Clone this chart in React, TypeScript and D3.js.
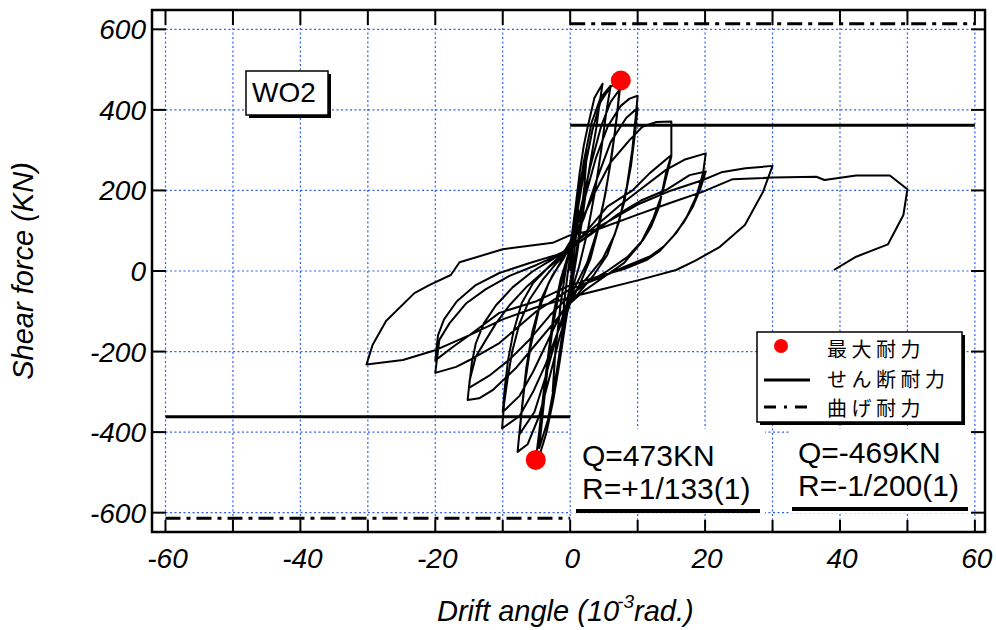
import * as d3 from 'd3';
import React from 'react';

const W = 996;
const H = 630;
const margin = {top: 10, right: 11, bottom: 98, left: 152};

// hysteresis record, [drift (1e-3 rad), shear (kN)], one array per load cycle
const cyc1 = [[0, 0], [0.3, 50], [0.7, 100], [1.2, 150], [0.9, 90], [0.4, 20], [0, -30], [-0.5, -90], [-1.2, -150]];
const cyc2 = [[-0.9, -80], [-0.4, -10], [0.1, 50], [0.9, 150], [1.7, 240], [2.5, 300], [2.1, 210], [1.3, 90], [0.5, 0], [-0.3, -60], [-1.2, -160], [-2.0, -250], [-2.6, -300]];
const cyc5a = [[-2.2, -200], [-1.4, -80], [-0.6, 10], [0.1, 70], [0.8, 160], [1.4, 243], [2.0, 310], [2.6, 358], [3.6, 430], [4.8, 465],
  [4.3, 410], [3.9, 358], [3.2, 290], [2.6, 230], [1.8, 130], [0.9, 30], [0.2, -40], [-0.7, -130], [-1.6, -230], [-2.5, -320], [-3.5, -400], [-4.4, -450], [-5.1, -469]];
const cyc5b = [[-4.6, -400], [-4.0, -310], [-3.2, -200], [-2.4, -100], [-1.4, -20], [-0.3, 40], [0.8, 140], [2.0, 270], [3.2, 370], [4.5, 430], [6.0, 460],
  [5.4, 400], [4.6, 300], [3.7, 200], [2.6, 100], [1.3, 10], [0.2, -50], [-1.0, -150], [-2.2, -270], [-3.3, -370], [-4.6, -440]];
const cyc75a = [[-4.1, -360], [-3.4, -250], [-2.6, -140], [-1.6, -50], [-0.4, 30], [0.8, 120], [2.0, 240], [3.3, 350], [4.5, 420], [6.0, 458], [7.5, 473],
  [7.1, 410], [6.5, 330], [5.6, 230], [4.4, 120], [3.0, 30], [1.5, -30], [0, -80], [-1.5, -160], [-3.0, -260], [-4.6, -360], [-6.3, -430], [-7.8, -449]];
const cyc75b = [[-7.4, -380], [-6.8, -290], [-5.9, -190], [-4.7, -100], [-3.2, -30], [-1.5, 20], [0, 60], [1.5, 150], [3.0, 260], [4.6, 360], [6.0, 420], [7.3, 450],
  [6.9, 380], [6.2, 290], [5.2, 190], [4.0, 100], [2.5, 20], [1.0, -30], [-0.5, -80], [-2.0, -160], [-3.6, -260], [-5.3, -350], [-7.5, -405]];
const cyc10a = [[-7.1, -330], [-6.5, -240], [-5.6, -150], [-4.3, -70], [-2.6, -10], [-1.0, 30], [0.5, 80], [2.0, 170], [3.8, 280], [5.6, 360], [7.5, 410], [8.8, 428], [10, 435],
  [9.7, 380], [9.2, 300], [8.4, 210], [7.2, 120], [5.5, 40], [3.5, -10], [1.5, -50], [0, -80], [-1.8, -150], [-3.6, -230], [-5.5, -300], [-7.5, -360], [-10.1, -391]];
const cyc10b = [[-9.8, -330], [-9.3, -270], [-8.6, -200], [-7.5, -130], [-6.0, -70], [-4.0, -20], [-2.0, 20], [0, 55], [2.0, 130], [4.0, 230], [6.0, 320], [8.3, 380], [10, 405],
  [9.6, 340], [9.0, 260], [8.0, 170], [6.6, 90], [4.8, 30], [2.6, -15], [0.5, -55], [-1.5, -110], [-3.5, -180], [-5.5, -250], [-7.5, -310], [-10, -350]];
const cyc15a = [[-9.7, -290], [-9.2, -220], [-8.4, -150], [-7.2, -80], [-5.5, -30], [-3.2, 10], [-1.0, 45], [1.0, 100], [3.5, 190], [6.0, 270], [8.8, 325], [10.7, 358], [12.8, 370], [15, 371],
  [15, 285], [14.5, 250], [13.6, 190], [12.3, 130], [10.5, 70], [8.0, 20], [5.0, -15], [2.0, -50], [0, -80], [-2.5, -130], [-5.0, -180], [-8.0, -240], [-11.5, -296], [-13.5, -316], [-15.2, -320]];
const cyc15b = [[-14.9, -271], [-14.0, -213], [-12.5, -171], [-11.0, -130], [-9.0, -85], [-6.5, -40], [-3.5, 5], [-0.5, 45], [2.5, 100], [5.5, 160], [9.3, 201], [11.8, 243], [15, 288],
  [14.2, 243], [13.2, 160], [12.0, 110], [10.8, 77], [8.5, 35], [5.5, 0], [2.5, -30], [0, -60], [-3, -110], [-6, -170], [-9, -220], [-12, -260], [-15, -290]];
const cyc20a = [[-14.6, -230], [-14.0, -180], [-12.8, -130], [-11.0, -85], [-8.5, -40], [-5.5, 0], [-2.5, 30], [0, 60], [4.3, 119], [7.5, 165], [10.3, 201], [14.2, 251], [16.9, 276], [20.1, 292],
  [19.7, 243], [18.7, 185], [17.3, 135], [15.7, 94], [13.8, 60], [11.8, 36], [8.0, 10], [4.3, -18], [0, -45], [-5, -100], [-10.5, -179], [-14.9, -221], [-16.9, -238], [-20, -253]];
const cyc20b = [[-19.4, -171], [-17.9, -130], [-15.4, -80], [-12.5, -45], [-9.0, -12], [-5.0, 15], [-1.0, 45], [3.0, 90], [7.0, 140], [10.5, 175], [14.2, 201], [17.7, 238], [20.1, 247],
  [19.4, 209], [18.2, 160], [16.8, 120], [15.2, 85], [13.3, 50], [11.3, 27], [8.0, 5], [4.3, -13], [0, -35], [-5, -75], [-10.5, -104], [-14.9, -159], [-17.5, -190], [-20, -222]];
const cyc30 = [[-19.6, -160], [-18.7, -120], [-16.8, -75], [-14.0, -35], [-10.5, -5], [-6.0, 20], [-2.0, 40], [0, 55], [4.3, 110], [10.0, 165], [15.0, 200], [19.7, 226], [22.4, 245], [26.0, 255], [30, 261],
  [28.6, 197], [25.9, 114], [22.2, 60], [18.5, 25], [15.7, 2.5], [10.3, -22], [4.3, -47], [0, -65], [-5, -90], [-10, -120], [-15, -160], [-19.9, -196], [-24.8, -221], [-30.2, -232]];
const cyc50 = [[-29.3, -184], [-27.3, -124], [-23.1, -55], [-20.9, -35], [-17.7, -10], [-16.4, 21.6], [-10, 54], [-2.6, 70], [0, 89], [4.3, 105], [10, 140], [15, 170], [19.7, 197], [24.1, 228],
  [30, 232], [36.5, 234], [37.7, 226], [42.4, 237], [47.4, 237], [50, 203], [49.4, 139], [47.1, 66], [42.4, 35.5], [39.1, 2.5]];

const record = [cyc1, cyc2, cyc5a, cyc5b, cyc75a, cyc75b, cyc10a, cyc10b, cyc15a, cyc15b, cyc20a, cyc20b, cyc30, cyc50].flat();

const maxPoints = [[7.5, 473], [-5.1, -469]];
const shearCap = 362;
const flexCap = 614;

const xTicks = [-60, -40, -20, 0, 20, 40, 60];
const xGrid = d3.range(-60, 61, 10);
const yTicks = [-600, -400, -200, 0, 200, 400, 600];

const notePos = ['Q=473KN', 'R=+1/133(1)'];
const noteNeg = ['Q=-469KN', 'R=-1/200(1)'];
const legendLabels = ['最大耐力', 'せん断耐力', '曲げ耐力'];

const font = '"Liberation Sans", Arial, sans-serif';
const jpFont = '"Noto Sans CJK JP", sans-serif';
const grid = '#2f5ff5';
const flexDash = '15,6,4,6';

export default function App() {
  const x = d3.scaleLinear().domain([-62, 61.5]).range([margin.left, W - margin.right]);
  const y = d3.scaleLinear().domain([-648, 648]).range([H - margin.bottom, margin.top]);
  const line = d3.line<number[]>().x(d => x(d[0])).y(d => y(d[1]));
  const x0 = margin.left, x1 = W - margin.right, y0 = margin.top, y1 = H - margin.bottom;

  return (
    <svg width={W} height={H} style={{position: 'absolute', left: 0, top: 0, background: '#fff'}} fontFamily={font}>
      {/* grid */}
      <g stroke={grid} strokeWidth={1.2} strokeDasharray="2,2.5" fill="none">
        {xGrid.map(v => <line key={'gx' + v} x1={x(v)} x2={x(v)} y1={y0} y2={y1} />)}
        {yTicks.map(v => <line key={'gy' + v} x1={x0} x2={x1} y1={y(v)} y2={y(v)} />)}
      </g>
      {/* white panels behind the annotations */}
      <rect x={x(0) + 1} y={y(-400) - 3} width={194} height={84} fill="#fff" />
      <rect x={790} y={y(-400) - 3} width={182} height={84} fill="#fff" />

      {/* capacities */}
      <g stroke="#000" strokeWidth={3} fill="none">
        <line x1={x(0)} x2={x(60)} y1={y(shearCap)} y2={y(shearCap)} />
        <line x1={x(-60)} x2={x(0)} y1={y(-shearCap)} y2={y(-shearCap)} />
        <line x1={x(0)} x2={x(60)} y1={y(flexCap)} y2={y(flexCap)} strokeDasharray={flexDash} />
        <line x1={x(-60)} x2={x(0)} y1={y(-flexCap)} y2={y(-flexCap)} strokeDasharray={flexDash} />
      </g>

      <path d={line(record) || ''} fill="none" stroke="#000" strokeWidth={2} strokeLinejoin="round" />
      {maxPoints.map((d, i) => <circle key={i} cx={x(d[0])} cy={y(d[1])} r={10} fill="#ff0000" />)}

      {/* frame and ticks */}
      <rect x={x0} y={y0} width={x1 - x0} height={y1 - y0} fill="none" stroke="#000" strokeWidth={2.5} />
      <g stroke="#000" strokeWidth={2}>
        {xGrid.map(v => <line key={'tb' + v} x1={x(v)} x2={x(v)} y1={y1} y2={y1 - 12} />)}
        {xGrid.map(v => <line key={'tt' + v} x1={x(v)} x2={x(v)} y1={y0} y2={y0 + 15} />)}
        {yTicks.map(v => <line key={'tl' + v} x1={x0} x2={x0 + 14} y1={y(v)} y2={y(v)} />)}
        {yTicks.map(v => <line key={'tr' + v} x1={x1} x2={x1 - 14} y1={y(v)} y2={y(v)} />)}
      </g>
      <g fontSize={28} fontStyle="italic" fill="#000">
        {yTicks.map(v => <text key={'ly' + v} x={x0 - 6} y={y(v) + 10} textAnchor="end">{v}</text>)}
        {xTicks.map(v => <text key={'lx' + v} x={x(v) + 2} y={568} textAnchor="middle">{v}</text>)}
      </g>

      {/* axis titles */}
      <text x={437} y={621} fontSize={29} fontStyle="italic">
        Drift angle (10<tspan fontSize={19} dy={-13} dx={-2}>-3</tspan><tspan dy={13}>rad.)</tspan>
      </text>
      <text transform={`translate(33, ${y(0)}) rotate(-90)`} fontSize={29} fontStyle="italic" textAnchor="middle">Shear force (KN)</text>

      {/* specimen label */}
      <rect x={249} y={74} width={82} height={44} fill="#000" />
      <rect x={246} y={71} width={82} height={44} fill="#fff" stroke="#000" strokeWidth={1.5} />
      <text x={252} y={102} fontSize={28}>WO2</text>

      {/* peak notes */}
      <g fontSize={30}>
        <text x={582} y={466}>{notePos[0]}</text>
        <text x={582} y={499}>{notePos[1]}</text>
        <text x={798} y={463}>{noteNeg[0]}</text>
        <text x={798} y={496}>{noteNeg[1]}</text>
      </g>
      <line x1={576} x2={760} y1={511} y2={511} stroke="#000" strokeWidth={4} />
      <line x1={792} x2={968} y1={509} y2={509} stroke="#000" strokeWidth={4} />

      {/* legend */}
      <rect x={760} y={335} width={205} height={90} fill="#000" />
      <rect x={757} y={332} width={205} height={90} fill="#fff" stroke="#000" strokeWidth={1.5} />
      <circle cx={781} cy={346} r={7} fill="#ff0000" />
      <line x1={764} x2={810} y1={380} y2={380} stroke="#000" strokeWidth={3} />
      <line x1={764} x2={810} y1={407} y2={407} stroke="#000" strokeWidth={3} strokeDasharray="12,8,3,8" />
      <g fontFamily={jpFont} fontSize={20} letterSpacing={4.5}>
        {legendLabels.map((t, i) => <text key={t} x={827} y={357 + i * 29.5}>{t}</text>)}
      </g>
    </svg>
  );
}
